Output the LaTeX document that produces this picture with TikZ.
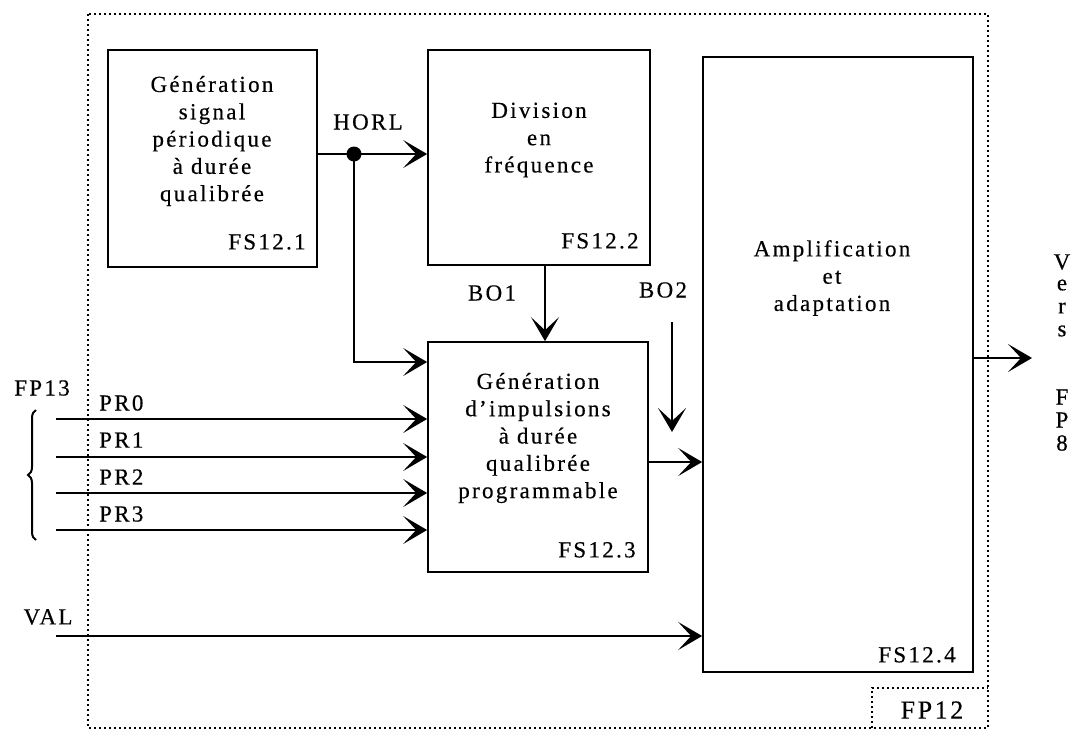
\documentclass[tikz,border=0pt]{standalone}
\usepackage{fontspec}
\setmainfont{Liberation Serif}[LetterSpace=10,FakeBold=0.4]
\usetikzlibrary{arrows.meta,decorations.pathreplacing}

\begin{document}
\begin{tikzpicture}[x=1pt,y=-1pt,
  blk/.style={draw,line width=1.7pt,inner sep=0pt},
  txt/.style={align=center,inner sep=0pt,font=\fontsize{23}{27.3}\selectfont},
  lbl/.style={inner sep=0pt,font=\fontsize{23}{26}\selectfont},
  arr/.style={line width=1.7pt,-{Stealth[length=24pt,width=28pt,inset=13pt]}},
  wire/.style={line width=1.7pt},
  frame/.style={line width=1.4pt,dash pattern=on 2pt off 3pt}]

\useasboundingbox (0,0) rectangle (1082,734);

% outer frame of function FP12 and its tag
\draw[frame] (88,14) rectangle (988,728);
\draw[frame] (872,728) -- (872,688) -- (988,688);
\node[lbl,font=\fontsize{26}{28}\selectfont] (fp12) at (932,710) {FP12};

% functional blocks
\node[blk,minimum width=209pt,minimum height=217pt] (b1) at (212.5,158.5) {};
\node[blk,minimum width=222pt,minimum height=215pt] (b2) at (539,157.5) {};
\node[blk,minimum width=220pt,minimum height=230pt] (b3) at (538,457) {};
\node[blk,minimum width=270pt,minimum height=615pt] (b4) at (838,364.5) {};

\node[txt] (t1) at (212,141) {Génération\\signal\\périodique\\à durée\\qualibrée};
\node[txt] (t2) at (539,140) {Division\\en\\fréquence};
\node[txt] (t3) at (538,438) {Génération\\d'impulsions\\à durée\\qualibrée\\programmable};
\node[txt] (t4) at (832,278) {Amplification\\et\\adaptation};

\node[lbl,anchor=south east] (id1) at ([xshift=-12pt,yshift=18pt]b1.south east) {FS12.1};
\node[lbl,anchor=south east] (id2) at ([xshift=-12pt,yshift=17pt]b2.south east) {FS12.2};
\node[lbl,anchor=south east] (id3) at ([xshift=-13pt,yshift=15pt]b3.south east) {FS12.3};
\node[lbl,anchor=south east] (id4) at ([xshift=-18pt,yshift=10pt]b4.south east) {FS12.4};

% clock HORL with its branch point
\coordinate (j) at (354,154);
\coordinate (jl) at (354,362);
\draw[wire] (j -| b1.east) -- (j);
\draw[arr] (j) -- (j -| b2.west);
\draw[arr] (j) -- (jl) -- (jl -| b3.west);
\fill (j) circle (7.5pt);
\node[lbl] (horl) at (368,122) {HORL};

% BO1 and BO2
\coordinate (bo1) at (545,0);
\draw[arr] (bo1 |- b2.south) -- (bo1 |- b3.north);
\node[lbl] (lbo1) at (492,293) {BO1};
\coordinate (bo2a) at (672,322);
\coordinate (bo2b) at (672,432);
\draw[arr] (bo2a) -- (bo2b);
\node[lbl] (lbo2) at (663,290) {BO2};

% FS12.3 to FS12.4
\coordinate (y3) at (0,462);
\draw[arr] (y3 -| b3.east) -- (y3 -| b4.west);

% inputs PR0..PR3 from FP13
\foreach \i/\y/\ly in {0/419/403,1/457/440,2/493/477,3/530/514}{
  \coordinate (pr\i) at (56,\y);
  \draw[arr] (pr\i) -- (pr\i -| b3.west);
  \node[lbl,anchor=west] (lpr\i) at (99,\ly) {PR\i};
}
\node[lbl] (fp13) at (42,388) {FP13};
\draw[decorate,decoration={brace,amplitude=8pt},line width=2pt] (36,540) -- (36,410);

% validation input
\coordinate (val) at (56,636);
\draw[arr] (val) -- (val -| b4.west);
\node[lbl] (lval) at (48,617) {VAL};

% output towards FP8
\coordinate (out) at (1032,358);
\draw[arr] (out -| b4.east) -- (out);
\foreach \c/\y in {V/262,e/285,r/308,s/331,F/397,P/420,8/443}{
  \node[lbl] at (1062,\y) {\c};
}
\end{tikzpicture}
\end{document}
